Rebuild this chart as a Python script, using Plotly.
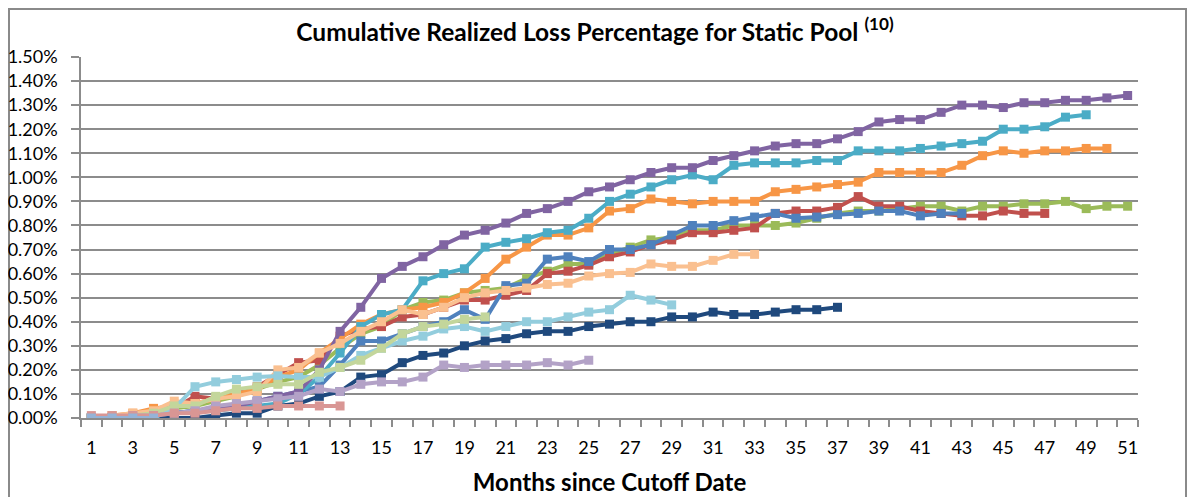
import plotly.graph_objects as go

months = list(range(1, 52))
tick_months = list(range(1, 52, 2))

blue = [0.00,0.00,0.00,0.01,0.02,0.03,0.04,0.05,0.07,0.09,
        0.11,0.13,0.22,0.32,0.32,0.35,0.38,0.40,0.45,0.41,
        0.55,0.56,0.66,0.67,0.65,0.70,0.70,0.72,0.76,0.80,
        0.80,0.82,0.835,0.85,0.83,0.835,0.845,0.85,0.86,0.86,
        0.84,0.85,0.85]
red = [0.00,0.00,0.01,0.02,0.04,0.09,0.08,0.10,0.13,0.18,
       0.23,0.24,0.34,0.37,0.38,0.42,0.43,0.46,0.49,0.49,
       0.51,0.53,0.60,0.61,0.635,0.67,0.69,0.72,0.74,0.77,
       0.77,0.78,0.79,0.85,0.86,0.86,0.875,0.92,0.88,0.88,
       0.86,0.85,0.84,0.84,0.86,0.85,0.85]
green = [0.00,0.00,0.01,0.02,0.04,0.05,0.07,0.09,0.12,0.15,
         0.17,0.22,0.29,0.35,0.38,0.45,0.48,0.49,0.52,0.53,
         0.54,0.58,0.61,0.64,0.64,0.68,0.71,0.74,0.75,0.78,
         0.78,0.80,0.80,0.80,0.81,0.83,0.85,0.86,0.86,0.87,
         0.88,0.88,0.86,0.88,0.88,0.89,0.89,0.90,0.87,0.88,
         0.88]
purple = [0.00,0.00,0.01,0.01,0.02,0.03,0.04,0.05,0.07,0.09,
          0.11,0.20,0.36,0.46,0.58,0.63,0.67,0.72,0.76,0.78,
          0.81,0.85,0.87,0.90,0.94,0.96,0.99,1.02,1.04,1.04,
          1.07,1.09,1.11,1.13,1.14,1.14,1.16,1.19,1.23,1.24,
          1.24,1.27,1.30,1.30,1.29,1.31,1.31,1.32,1.32,1.33,
          1.34]
aqua = [0.00,0.00,0.00,0.01,0.02,0.03,0.03,0.04,0.05,0.06,
        0.10,0.17,0.27,0.38,0.43,0.45,0.57,0.60,0.62,0.71,
        0.73,0.745,0.77,0.78,0.83,0.90,0.93,0.96,0.99,1.01,
        0.99,1.05,1.06,1.06,1.06,1.07,1.07,1.11,1.11,1.11,
        1.12,1.13,1.14,1.15,1.20,1.20,1.21,1.25,1.26]
orange = [0.00,0.01,0.02,0.04,0.05,0.06,0.08,0.10,0.12,0.17,
          0.20,0.27,0.33,0.39,0.43,0.45,0.46,0.48,0.52,0.58,
          0.66,0.71,0.76,0.76,0.79,0.86,0.87,0.91,0.90,0.89,
          0.90,0.90,0.90,0.94,0.95,0.96,0.97,0.98,1.02,1.02,
          1.02,1.02,1.05,1.09,1.11,1.10,1.11,1.11,1.12,1.12]
dark_blue = [0.00,0.00,0.00,0.00,0.00,0.00,0.01,0.02,0.02,0.05,
             0.06,0.09,0.11,0.17,0.18,0.23,0.26,0.27,0.30,0.32,
             0.33,0.35,0.36,0.36,0.38,0.39,0.40,0.40,0.42,0.42,
             0.44,0.43,0.43,0.44,0.45,0.45,0.46]
light_orange = [0.00,0.01,0.02,0.03,0.07,0.06,0.08,0.09,0.11,0.20,
                0.21,0.27,0.31,0.36,0.40,0.45,0.43,0.46,0.50,0.52,
                0.53,0.54,0.555,0.56,0.59,0.60,0.605,0.64,0.63,0.63,
                0.655,0.68,0.68]
light_aqua = [0.00,0.00,0.00,0.00,0.04,0.13,0.15,0.16,0.17,0.175,
              0.17,0.17,0.21,0.26,0.29,0.32,0.34,0.37,0.38,0.36,
              0.38,0.40,0.40,0.42,0.44,0.45,0.51,0.49,0.47]
light_green = [0.00,0.00,0.01,0.02,0.05,0.05,0.09,0.12,0.13,0.14,
               0.14,0.19,0.21,0.24,0.29,0.35,0.38,0.39,0.41,0.42]
light_purple = [0.00,0.00,0.01,0.01,0.02,0.03,0.05,0.06,0.07,0.08,
                0.09,0.12,0.11,0.14,0.15,0.15,0.17,0.22,0.21,0.22,
                0.22,0.22,0.23,0.22,0.24]
pink = [0.01,0.01,0.01,0.01,0.02,0.02,0.03,0.04,0.04,0.05,0.05,0.05,0.05]
light_blue = [0.00,0.00,0.00,0.00]

series = [
    ("Pool G", green, "#9BBB59"),
    ("Pool R", red, "#C0504D"),
    ("Pool B", blue, "#4F81BD"),
    ("Pool O", orange, "#F79646"),
    ("Pool A", aqua, "#4BACC6"),
    ("Pool P", purple, "#8064A2"),
    ("Pool DB", dark_blue, "#1F497D"),
    ("Pool LO", light_orange, "#FAC090"),
    ("Pool LA", light_aqua, "#93CDDD"),
    ("Pool LG", light_green, "#C3D69B"),
    ("Pool LP", light_purple, "#B3A2C7"),
    ("Pool PK", pink, "#D99694"),
    ("Pool LB", light_blue, "#95B3D7"),
]

FONT = "Lato"
GRID = "#8C8C8C"

# page body has an 8px margin: figure coordinates are the reference's minus 8
L, T, R, B = 73, 49, 69, 87
PW, PH = 1199 - L - R, 497 - T - B

fig = go.Figure()
for name, vals, color in series:
    fig.add_trace(go.Scatter(
        x=months[:len(vals)], y=vals, name=name, mode="lines+markers",
        line=dict(color=color, width=4),
        marker=dict(symbol="square", size=9, color=color),
    ))

fig.update_layout(
    width=1199, height=497,
    margin=dict(l=L, r=R, t=T, b=B, autoexpand=False),
    paper_bgcolor="white", plot_bgcolor="white",
    showlegend=False,
    font=dict(family=FONT, size=18, color="#000000"),
    title=dict(
        text="<b>Cumulative Realized Loss Percentage for Static Pool <sup>(10)</sup></b>",
        x=587 / 1199, xref="container", xanchor="center",
        y=1 - 24 / 497, yref="container", yanchor="middle",
        font=dict(family=FONT, size=24.5, color="#000000"),
    ),
    xaxis=dict(
        range=[0.5, 51.5], automargin=False,
        tickmode="array", tickvals=tick_months, ticktext=[str(m) for m in tick_months],
        ticks="", ticklabelstandoff=13,
        showgrid=False, zeroline=False,
        showline=True, linecolor=GRID, linewidth=1.5,
        minor=dict(tickmode="linear", tick0=0.5, dtick=1, ticks="outside",
                   ticklen=7, tickcolor=GRID, tickwidth=1.5, showgrid=False),
        title=dict(text="<b>Months since Cutoff Date</b>",
                   font=dict(family=FONT, size=24, color="#000000"), standoff=17),
    ),
    yaxis=dict(
        range=[0, 1.5], dtick=0.1, tick0=0, automargin=False,
        tickformat=".2f", ticksuffix="%",
        ticks="outside", ticklen=8, tickcolor=GRID, tickwidth=1.5,
        ticklabelstandoff=10,
        showgrid=True, gridcolor=GRID, gridwidth=1.5,
        zeroline=False,
        showline=True, linecolor=GRID, linewidth=1.5,
    ),
    shapes=[dict(
        type="rect", xref="paper", yref="paper",
        x0=(1 - L) / PW, x1=(1178 - L) / PW,
        y0=-0.3, y1=(PH + T - 1) / PH,
        line=dict(color="#8A8A8A", width=2), fillcolor="rgba(0,0,0,0)", layer="below",
    )],
)

fig.write_html("out.html")
